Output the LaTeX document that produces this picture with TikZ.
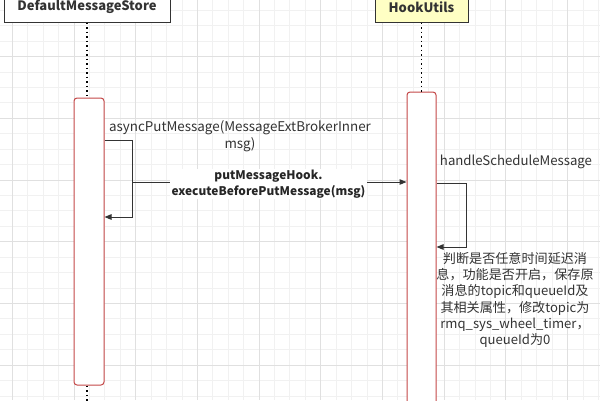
\documentclass[tikz,border=0pt]{standalone}
\usepackage{fontspec}
\setmainfont{Noto Sans CJK SC}
\usetikzlibrary{arrows.meta}
\definecolor{minorgrid}{RGB}{241,241,241}
\definecolor{majorgrid}{RGB}{224,224,224}
\definecolor{actred}{RGB}{196,72,72}
\definecolor{ink}{RGB}{51,51,51}
\definecolor{noteyellow}{RGB}{255,255,196}
\tikzset{
  minorline/.style={draw=minorgrid, line width=0.8pt},
  majorline/.style={draw=majorgrid, line width=0.8pt},
  header/.style={draw=ink, line width=1pt, font=\fontsize{13}{16}\selectfont\bfseries, text=ink, inner sep=0pt},
  activation/.style={draw=actred, fill=white, line width=1pt, rounded corners=3pt, inner sep=0pt},
  lifeline/.style={draw=black, line width=1.7pt, dash pattern=on 1.7pt off 2.8pt},
  msg/.style={draw=ink, line width=1pt, -{Triangle[length=7pt,width=5.5pt]}},
  lbl/.style={font=\fontsize{13.4}{17}\selectfont, text=ink, align=center, inner sep=0pt},
  boldlbl/.style={font=\fontsize{11.9}{16}\selectfont\bfseries, text=black!85, align=center, fill=white, inner xsep=2pt, inner ysep=1pt}
}
\begin{document}
\begin{tikzpicture}[x=1pt,y=-1pt]
\useasboundingbox (0,0) rectangle (600,400);
\fill[white] (0,0) rectangle (600,400);
\begin{scope}
  \clip (0,0) rectangle (600,400);
  \foreach \i in {0,...,40} {
    \draw[minorline] ({-3.2+\i*15.425},0) -- ++(0,400);
    \draw[minorline] (0,{-5.1+\i*15.425}) -- ++(600,0);
  }
  \foreach \i in {0,...,10} {
    \draw[majorline] ({12.2+\i*61.7},0) -- ++(0,400);
    \draw[majorline] (0,{-5.1+\i*61.7}) -- ++(600,0);
  }
\end{scope}

% headers
\node[header, fill=white, minimum width=166pt, minimum height=30pt] (dms) at (87,7) {DefaultMessageStore};
\node[header, fill=noteyellow, minimum width=93pt, minimum height=30pt] (hook) at (421.5,7) {HookUtils};

% activations
\node[activation, minimum width=30pt, minimum height=287pt] (act1) at (89,241.5) {};
\node[activation, minimum width=29pt, minimum height=320pt] (act2) at (421.5,252) {};

% lifelines
\coordinate (endl) at (87,402);
\draw[lifeline] (dms.south) -- (dms.south |- act1.north);
\draw[lifeline] (dms.south |- act1.south) -- (endl);
\draw[lifeline] (hook.south) -- (hook.south |- act2.north);

% self call 1
\coordinate (c1) at (132,140);
\coordinate (c2) at (132,217);
\draw[msg] (act1.east |- c1) -- (c1) -- (c2) -- (act1.east |- c2);
\node[lbl] (l1) at (240,136.5) {asyncPutMessage(MessageExtBrokerInner\\msg)};

% message to HookUtils
\coordinate (m0) at (132,182);
\draw[msg] (m0) -- (act2.west |- m0);
\node[boldlbl] (l2) at (268.5,184) {putMessageHook.\\executeBeforePutMessage(msg)};

% self call 2
\coordinate (c3) at (466,183);
\coordinate (c4) at (466,247);
\draw[msg] (act2.east |- c3) -- (c3) -- (c4) -- (act2.east |- c4);
\node[lbl, font=\fontsize{13.2}{17}\selectfont] (l3) at (516,162) {handleScheduleMessage};
\node[lbl, font=\fontsize{13.1}{16.2}\selectfont] (l4) at (515,300) {判断是否任意时间延迟消\\息，功能是否开启，保存原\\消息的topic和queueId及\\其相关属性，修改topic为\\rmq\_sys\_wheel\_timer，\\queueId为0};
\end{tikzpicture}
\end{document}
